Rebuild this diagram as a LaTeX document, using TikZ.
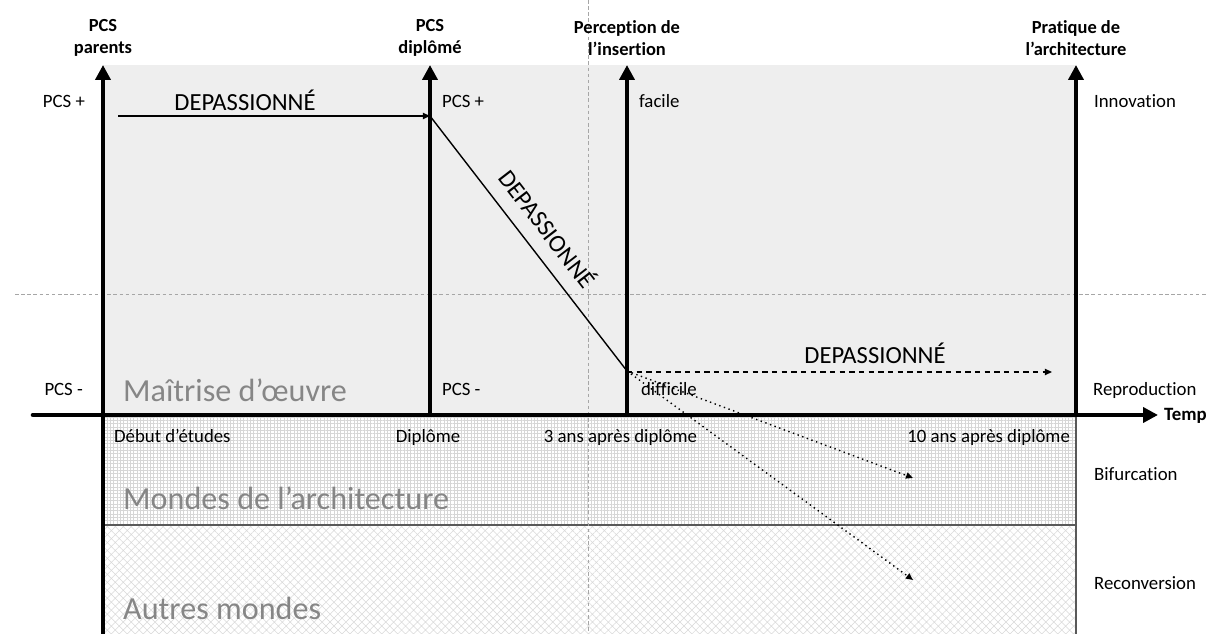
\documentclass[tikz,border=0pt]{standalone}
\usepackage{fontspec}
\setmainfont{Carlito}[Ligatures=NoCommon]
\usetikzlibrary{arrows.meta,patterns.meta}

\begin{document}
\begin{tikzpicture}[
    axis/.style={line width=2.6pt, -{Triangle[length=8.5pt,width=8.5pt]}},
    guide/.style={gray!70, line width=0.4pt, dash pattern=on 2pt off 1.5pt},
    lbl/.style={font=\fontsize{10.7}{12}\selectfont, inner sep=1pt, text height=1.6ex, text depth=.4ex},
    head/.style={font=\fontsize{10.5}{12.5}\selectfont\bfseries, align=center},
    big/.style={font=\fontsize{14}{16}\selectfont},
    world/.style={font=\fontsize{18.3}{20}\selectfont, text=gray!95, anchor=west},
    path/.style={line width=0.8pt, -{Triangle[length=4pt,width=3.5pt]}}
]
    \useasboundingbox (0,0) rectangle (24.16,12.68);

    % zones
    \fill[gray!13] (2.06,4.38) rectangle (21.52,11.38);
    \fill[white] (2.06,0) rectangle (21.52,4.38);
    \fill[pattern={Hatch[angle=0,distance=1.9pt,line width=0.3pt]}, pattern color=gray!32]
        (2.06,2.18) rectangle (21.52,4.38);
    \fill[pattern={Hatch[angle=45,distance=3.2pt,line width=0.3pt]}, pattern color=gray!30]
        (2.06,0) rectangle (21.52,2.18);
    \draw[gray!70!black, line width=0.6pt] (2.06,2.18) -- (21.52,2.18);
    \draw[gray!70!black, line width=0.6pt] (21.52,4.38) -- (21.52,0);

    % guides
    \coordinate (gl) at (0.30,6.80);
    \coordinate (gr) at (24.16,6.80);
    \coordinate (gt) at (11.76,12.68);
    \coordinate (gb) at (11.76,0);
    \draw[guide] (gl) -- (gr);
    \draw[guide] (gt) -- (gb);

    % axes
    \coordinate (pb) at (2.06,0);
    \coordinate (pt) at (2.06,11.38);
    \coordinate (db) at (8.60,4.38);
    \coordinate (dt) at (8.60,11.38);
    \coordinate (ib) at (12.54,4.38);
    \coordinate (it) at (12.54,11.38);
    \coordinate (ab) at (21.52,4.38);
    \coordinate (at) at (21.52,11.38);
    \coordinate (tl) at (0.66,4.38);
    \coordinate (tr) at (23.16,4.38);
    \draw[axis] (pb) -- (pt);
    \draw[axis] (db) -- (dt);
    \draw[axis] (ib) -- (it);
    \draw[axis] (ab) -- (at);
    \draw[axis, line cap=round] (tl) -- (tr);
    \node[lbl, anchor=west, font=\fontsize{10.7}{12}\selectfont\bfseries] (temp) at (23.24,4.38) {Temp};

    % axis titles
    \node[head] (hparents) at (2.06,11.92) {PCS\\parents};
    \node[head] (hdiplome) at (8.60,11.92) {PCS\\diplômé};
    \node[head] (hinsert) at (12.54,11.92) {Perception de\\l’insertion};
    \node[head] (hpratique) at (21.52,11.92) {Pratique de\\l’architecture};

    % scale labels
    \node[lbl, anchor=east] (pplus) at (1.74,10.64) {PCS +};
    \node[lbl, anchor=east] (pmoins) at (1.70,4.88) {PCS -};
    \node[lbl, anchor=west] (dplus) at (8.80,10.64) {PCS +};
    \node[lbl, anchor=west] (dmoins) at (8.80,4.88) {PCS -};
    \node[lbl, anchor=west] (facile) at (12.74,10.64) {facile};
    \node[lbl, anchor=west] (difficile) at (12.78,4.88) {difficile};
    \node[lbl, anchor=west] (innov) at (21.84,10.64) {Innovation};
    \node[lbl, anchor=west] (repro) at (21.82,4.88) {Reproduction};
    \node[lbl, anchor=west] (bifur) at (21.84,3.18) {Bifurcation};
    \node[lbl, anchor=west] (reconv) at (21.84,1.00) {Reconversion};

    % time labels
    \node[lbl, anchor=west] (debut) at (2.24,3.94) {Début d’études};
    \node[lbl] (diplome) at (8.56,3.94) {Diplôme};
    \node[lbl] (trois) at (12.41,3.94) {3 ans après diplôme};
    \node[lbl, anchor=east] (dix) at (21.44,3.94) {10 ans après diplôme};

    % worlds
    \node[world] (moe) at (2.34,4.88) {Maîtrise d’œuvre};
    \node[world] (mondes) at (2.34,2.72) {Mondes de l’architecture};
    \node[world] (autres) at (2.34,0.52) {Autres mondes};

    % trajectories
    \coordinate (s0) at (2.36,10.36);
    \coordinate (s1) at (8.60,10.36);
    \coordinate (s2) at (12.54,5.26);
    \coordinate (s3) at (21.04,5.24);
    \coordinate (s4) at (18.26,3.12);
    \coordinate (s5) at (18.26,1.08);
    \draw[path] (s0) -- (s1);
    \node[big] (dep1) at (4.90,10.68) {DEPASSIONNÉ};
    \draw[line width=0.8pt] (s1) -- node[big, sloped, above=5pt, pos=0.5, inner sep=3pt] (dep2) {DEPASSIONNÉ} (s2);
    \draw[path, dash pattern=on 3pt off 2.5pt] (12.54,5.24) -- (s3);
    \node[big] (dep3) at (17.50,5.62) {DEPASSIONNÉ};
    \draw[path, dotted] (s2) -- (s4);
    \draw[path, dotted] (s2) -- (s5);
\end{tikzpicture}
\end{document}
